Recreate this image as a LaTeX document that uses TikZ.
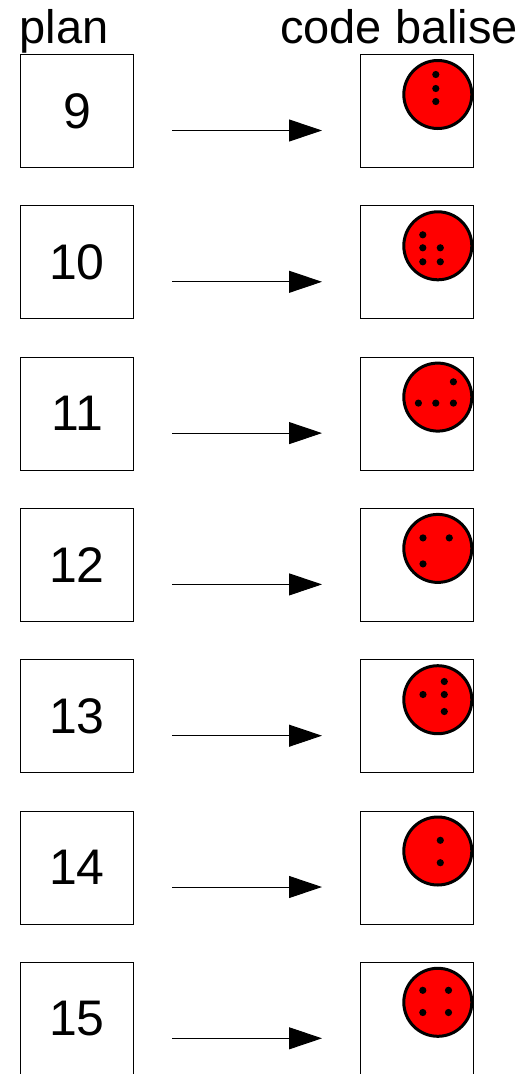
\documentclass[tikz,border=0pt]{standalone}
\usepackage{fontspec}
\setmainfont{Liberation Sans}
\usetikzlibrary{arrows.meta}
\begin{document}
\begin{tikzpicture}[x=1pt,y=-1pt,
  heading/.style={anchor=base west, inner sep=0pt, font=\fontsize{47}{56}\selectfont},
  numbox/.style={draw, line width=1pt, minimum width=113.5pt, minimum height=113pt, inner sep=0pt, font=\fontsize{50}{60}\selectfont},
  codebox/.style={draw, line width=1pt, minimum width=113pt, minimum height=113pt, inner sep=0pt},
  balise/.style={circle, draw, fill=red, line width=3pt, minimum size=68pt, inner sep=0pt},
  dot/.style={fill=black},
  link/.style={line width=1pt, -{Triangle[length=33pt, width=22pt]}}]
\useasboundingbox (0,0) rectangle (528,1074);

\node[heading] (hplan) at (19.5,43) {plan};
\node[heading] (hcode) at (280,43) {code balise};

\foreach \n/\dl [count=\i from 0] in {
    9/{-2/-20,-2/-6,-2/7},
    10/{-15/-11,-15/2,2.5/2,-15/16,2.5/16},
    11/{15.6/-15.3,-19.4/6,-2/6,15.6/6},
    12/{-14.8/-10.5,11.5/-10.5,-14.8/15.5},
    13/{6.5/-18.2,-14.8/-5.2,6.5/-5.2,6.5/11.8},
    14/{2.5/-10.7,2.5/11.7},
    15/{-15/-12,10.7/-12,-15/10.2,10.7/10.2}} {
  \pgfmathsetmacro\T{54.5+151.3*\i}
  % number box and code box of one row
  \node[numbox] (p\n) at (77,\T+56.5) {\n};
  \node[codebox] (b\n) at (416.5,\T+56.5) {};
  % arrow between the two boxes
  \coordinate (s\n) at (172,\T+76);
  \coordinate (e\n) at (322,\T+76);
  \draw[link] (s\n) -- (e\n);
  % red beacon with its dot code
  \node[balise] (c\n) at (437.8,\T+40) {};
  \foreach \dx/\dy in \dl {
    \fill[dot] (c\n) ++(\dx,\dy) circle[radius=3.6pt];
  }
}
\end{tikzpicture}
\end{document}
